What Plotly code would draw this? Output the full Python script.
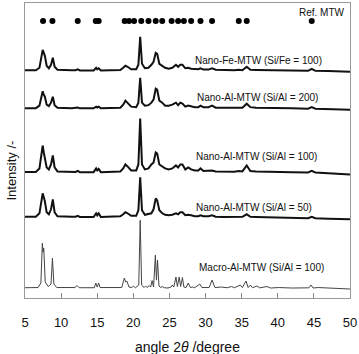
import plotly.graph_objects as go

# ---- data ----
nano_2theta = [5.0, 6.5, 7.0, 7.25, 7.45, 7.6, 7.75, 8.0, 8.3, 8.6,
               8.85, 9.1, 9.5, 11.5, 12.0, 12.3, 12.6, 14.5, 14.85, 15.0,
               15.2, 15.5, 18.2, 18.6, 18.9, 19.2, 19.7, 20.4, 20.7, 20.95,
               21.2, 21.6, 22.1, 22.5, 22.8, 23.1, 23.3, 23.6, 24.0, 24.4,
               24.9, 25.4, 25.9, 26.2, 26.5, 26.8, 27.2, 27.6, 28.0, 28.5,
               29.0, 29.3, 29.7, 30.4, 30.9, 31.4, 32.5, 34.0, 34.6, 35.1,
               35.7, 36.2, 37.0, 38.5, 40.0, 42.0, 44.2, 44.7, 45.2, 47.0,
               50.0]

fe100_int = [0.5, 0.5, 3, 12, 21, 18, 15, 5, 2.5, 6,
             13, 4, 1, 0.5, 0.5, 1.5, 0.3, 0.3, 3, 1.5,
             2.5, 0.3, 0.8, 3, 5, 4, 1.5, 1.5, 6, 34,
             7, 2.5, 3, 6, 9, 18, 17, 7, 5, 3,
             2, 3, 6, 4, 6, 6, 2.5, 3, 2, 1.5,
             1.5, 2.5, 1.2, 1.2, 2.5, 1, 0.6, 0.6, 1, 0.5,
             4, 1, 0.8, 0.6, 0.3, 0.2, 0, 2, 0, -0.3,
             -1]

al200_int = [0.5, 0.5, 3, 10, 17.5, 14, 12, 4, 2.5, 6,
             12, 3.5, 1, 0.5, 0.5, 1.2, 0.3, 0.3, 2, 1.2,
             2, 0.3, 1, 4, 8, 6, 2, 1.5, 6, 31,
             6, 3, 3.5, 6, 9, 20, 19, 8, 6, 3,
             3, 4, 6, 3.5, 6, 5, 2, 3, 2, 1.5,
             1.5, 3, 1.5, 1.5, 3, 1, 0.8, 0.8, 1.5, 1,
             5, 1.5, 1, 0.6, 0.4, 0.3, 0, 1.5, 0, -0.3,
             -1]

al100_int = [0.5, 0.5, 4, 15, 27, 20, 15, 5, 3, 8,
             17, 5, 1, 0.5, 0.5, 1.5, 0.3, 0.3, 4, 2,
             3.5, 0.3, 1, 4, 8, 6, 2, 2, 8, 54,
             8, 3, 4, 8, 10, 20, 19, 8, 6, 4,
             3, 4, 7, 5, 8, 8, 3, 5, 3, 2,
             2, 4, 1.5, 1.5, 2, 1, 0.6, 0.8, 1.5, 1,
             7, 1.5, 1, 0.6, 0.4, 0.2, 0, 1.5, 0, -0.5,
             -2]

al50_int = [0.5, 0.5, 4, 14, 24, 20, 16, 5, 3, 8,
            18, 5, 1, 0.5, 0.5, 1.5, 0.3, 0.3, 4, 2,
            4, 0.3, 1, 3, 5, 4, 1.5, 1.5, 7, 40,
            7, 2.5, 3, 4, 8, 19, 17, 7, 4, 2.5,
            2, 2.5, 4, 3, 5, 5, 2, 2.5, 2, 1,
            1, 2, 1, 1, 2, 0.5, 0.3, 0.3, 1, 0.5,
            3, 0.5, 0.3, 0, -0.5, -0.8, -1, 0.5, -1, -1.5,
            -2]

macro_2theta = [5.0, 6.8, 7.2, 7.4, 7.5, 7.6, 7.8, 8.2, 8.6, 8.8,
                9.0, 9.4, 11.9, 12.2, 12.5, 14.6, 14.8, 15.0, 15.2, 15.4,
                18.4, 18.75, 18.95, 19.1, 19.4, 19.8, 20.0, 20.3, 20.75, 20.95,
                21.15, 21.5, 21.7, 21.9, 22.2, 22.4, 22.6, 22.8, 23.05, 23.2,
                23.35, 23.55, 23.8, 24.0, 24.3, 24.8, 25.2, 25.4, 25.6, 25.9,
                26.1, 26.35, 26.55, 26.8, 27.0, 27.3, 27.6, 27.9, 28.2, 28.5,
                29.2, 29.5, 30.5, 30.9, 31.3, 32.2, 33.0, 33.6, 34.0, 34.8,
                35.1, 35.6, 35.9, 36.2, 36.5, 37.1, 37.5, 38.5, 39.0, 40.1,
                42.0, 44.3, 44.6, 44.9, 45.6, 47.0, 50.0]

macro_int = [0.3, 0.5, 5, 45, 36, 40, 6, 1.5, 4, 30,
             4, 0.5, 0.5, 2.5, 0.3, 0.3, 5, 1, 5, 0.5,
             0.5, 10, 6, 7, 1, 0.5, 2, 0.3, 3, 68,
             3, 0.5, 2, 0.5, 2.5, 1, 7.5, 1, 33, 8,
             28, 2, 0.5, 1.5, 0.3, 0, 1, 3, 1, 11,
             1.5, 11, 1.5, 10.5, 1, 0.5, 5, 0.5, 1, 0.3,
             4, 0.5, 0.5, 8, 0.5, 1, 0.3, 1.5, 0.3, 3,
             0.5, 7, 0.5, 3, 0.3, 2, 0.2, 1.5, 0, 0.5,
             0, 0.2, 3, 0, 0.5, 0, -1]

ref_mtw_2theta = [7.5, 8.8, 12.3, 14.8, 15.2, 18.8, 19.4, 20.1, 21.1, 22.1,
                  23.1, 24.0, 25.3, 26.2, 27.0, 28.0, 29.3, 30.9, 34.6, 35.7, 44.7]

x_ticks = [5, 10, 15, 20, 25, 30, 35, 40, 45, 50]

labels = ["Nano-Fe-MTW (Si/Fe = 100)", "Nano-Al-MTW (Si/Al = 200)",
          "Nano-Al-MTW (Si/Al = 100)", "Nano-Al-MTW (Si/Al = 50)",
          "Macro-Al-MTW (Si/Al = 100)"]
offsets = [228, 190, 126, 81, 10]

series = [(nano_2theta, fe100_int), (nano_2theta, al200_int), (nano_2theta, al100_int),
          (nano_2theta, al50_int), (macro_2theta, macro_int)]
widths = [2, 2, 2, 2, 1]
colors = ["#111111", "#111111", "#111111", "#111111", "#444444"]
label_pos = [(37.3, 238), (37.2, 201), (37.1, 142), (36.7, 91), (37.8, 31)]

fig = go.Figure()
for (xs, ys), off, w, c in zip(series, offsets, widths, colors):
    fig.add_trace(go.Scatter(x=xs, y=[v + off for v in ys], mode="lines",
                             line=dict(color=c, width=w), showlegend=False,
                             hoverinfo="skip"))

fig.add_trace(go.Scatter(x=ref_mtw_2theta, y=[278] * len(ref_mtw_2theta), mode="markers",
                         marker=dict(color="black", size=6), showlegend=False))

font_fam = "Arial, Liberation Sans, sans-serif"
annotations = []
for lab, (ax, ay) in zip(labels, label_pos):
    annotations.append(dict(x=ax, y=ay, xref="x", yref="y", text=lab, showarrow=False,
                            xanchor="center", yanchor="middle",
                            font=dict(family=font_fam, size=10, color="#111")))
annotations.append(dict(x=46.1, y=286, xref="x", yref="y", text="Ref. MTW", showarrow=False,
                        xanchor="center", yanchor="middle",
                        font=dict(family=font_fam, size=10, color="#111")))
annotations.append(dict(x=0.5, y=-0.165, xref="paper", yref="paper",
                        text="angle 2<i>θ</i> /degree", showarrow=False,
                        xanchor="center", yanchor="middle",
                        font=dict(family=font_fam, size=14, color="#111")))
annotations.append(dict(x=-0.04, y=0.432, xref="paper", yref="paper", text="Intensity /-",
                        textangle=-90, showarrow=False, xanchor="center", yanchor="middle",
                        font=dict(family=font_fam, size=13, color="#111")))

fig.update_layout(
    width=359, height=354,
    margin=dict(l=25, r=7, t=2, b=56),
    paper_bgcolor="white", plot_bgcolor="white",
    annotations=annotations,
    xaxis=dict(range=[5, 50], tickmode="array", tickvals=x_ticks,
               ticktext=[str(t) for t in x_ticks], ticks="inside", ticklen=5,
               tickcolor="#888", showline=True, linecolor="#999", linewidth=1,
               mirror=True, showgrid=False, zeroline=False,
               tickfont=dict(family=font_fam, size=13, color="#111"),
               ticklabelstandoff=12, ticklabeloverflow="allow"),
    yaxis=dict(range=[0, 296], showticklabels=False, ticks="", showline=True,
               linecolor="#999", linewidth=1, mirror=True, showgrid=False,
               zeroline=False),
)

fig.write_html("out.html")
